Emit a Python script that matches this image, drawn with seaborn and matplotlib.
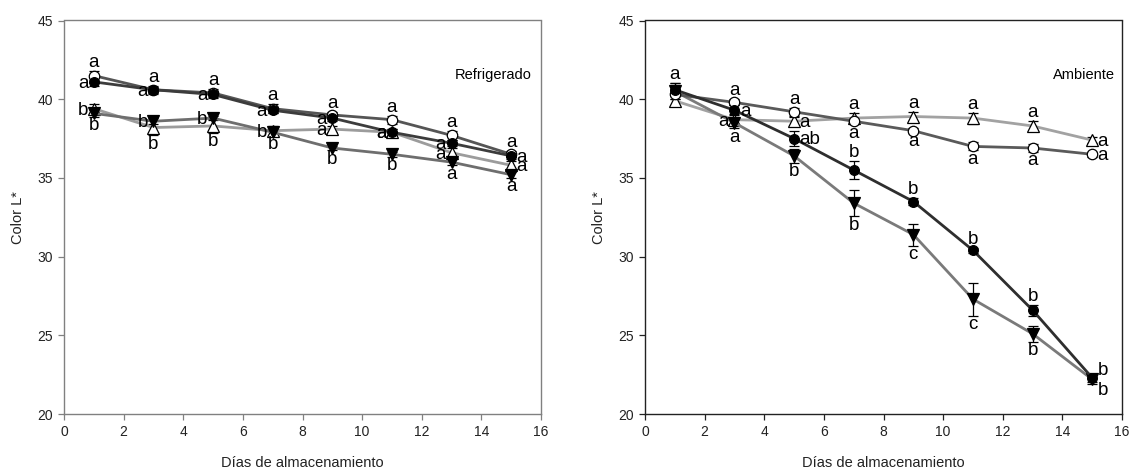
import numpy as np
import pandas as pd
import matplotlib
matplotlib.use("Agg")
import matplotlib.pyplot as plt
import seaborn as sns

# ---------------- data ----------------
days = [1, 3, 5, 7, 9, 11, 13, 15]

# Refrigerado
ref_fc = [41.1, 40.6, 40.3, 39.3, 38.8, 37.9, 37.2, 36.4]
ref_oc = [41.5, 40.6, 40.4, 39.4, 39.0, 38.7, 37.7, 36.5]
ref_ft = [39.1, 38.6, 38.8, 37.9, 36.9, 36.5, 36.0, 35.2]
ref_ot = [39.4, 38.2, 38.3, 38.0, 38.1, 37.9, 36.6, 35.8]
ref_fc_err = [0.25, 0.2, 0.2, 0.2, 0.2, 0.2, 0.2, 0.2]
ref_oc_err = [0.3, 0.25, 0.25, 0.3, 0.2, 0.25, 0.3, 0.2]
ref_ft_err = [0.2, 0.2, 0.15, 0.2, 0.15, 0.15, 0.2, 0.2]
ref_ot_err = [0.3, 0.5, 0.45, 0.3, 0.2, 0.2, 0.3, 0.25]
ref_fc_let = ["a", "a", "a", "a", "a", "a", "a", "a"]
ref_oc_let = ["a", "a", "a", "a", "a", "a", "a", "a"]
ref_ft_let = ["b", "b", "b", "b", "b", "b", "a", "a"]
ref_ot_let = ["b", "b", "b", "b", "a", "a", "a", "a"]

# Ambiente
amb_fc = [40.6, 39.3, 37.5, 35.5, 33.5, 30.4, 26.6, 22.3]
amb_oc = [40.3, 39.8, 39.2, 38.6, 38.0, 37.0, 36.9, 36.5]
amb_ft = [40.5, 38.5, 36.4, 33.4, 31.4, 27.3, 25.1, 22.2]
amb_ot = [39.9, 38.7, 38.6, 38.8, 38.9, 38.8, 38.3, 37.4]
amb_fc_err = [0.4, 0.3, 0.45, 0.55, 0.25, 0.15, 0.35, 0.25]
amb_oc_err = [0.3, 0.2, 0.25, 0.2, 0.15, 0.25, 0.25, 0.15]
amb_ft_err = [0.5, 0.35, 0.45, 0.85, 0.7, 1.05, 0.5, 0.3]
amb_ot_err = [0.3, 0.35, 0.3, 0.3, 0.3, 0.35, 0.3, 0.2]
amb_fc_let = ["a", "a", "ab", "b", "b", "b", "b", "b"]
amb_oc_let = ["", "a", "a", "a", "a", "a", "a", "a"]
amb_ft_let = ["", "a", "b", "b", "c", "c", "b", "b"]
amb_ot_let = ["", "a", "a", "a", "a", "a", "a", "a"]

panel_titles = ["Refrigerado", "Ambiente"]
xlabel = "Días de almacenamiento"
ylabel = "Color L*"

# letter placement (side of the point)
ref_fc_side = ["W", "W", "W", "W", "W", "W", "W", "E"]
ref_oc_side = ["N", "N", "N", "N", "N", "N", "N", "N"]
ref_ft_side = ["S", "W", "W", "S", "S", "S", "S", "S"]
ref_ot_side = ["W", "S", "S", "W", "W", "W", "W", "E"]
amb_fc_side = ["N", "E", "E", "N", "N", "N", "N", "NE"]
amb_oc_side = ["N", "N", "N", "S", "S", "S", "S", "E"]
amb_ft_side = ["S", "S", "S", "S", "S", "S", "S", "SE"]
amb_ot_side = ["W", "W", "E", "N", "N", "N", "N", "E"]

# ---------------- style ----------------
sns.set_theme(style="ticks")
plt.rcParams["font.family"] = ["Liberation Sans", "DejaVu Sans"]

fig = plt.figure(figsize=(11.3, 4.73), dpi=100)
ax1 = fig.add_axes([64 / 1130, 59 / 473, 477 / 1130, 393.5 / 473])
ax2 = fig.add_axes([645 / 1130, 59 / 473, 477 / 1130, 393.5 / 473])

series_style = {
    "fc": dict(marker="o", mfc="black", ms=7),
    "oc": dict(marker="o", mfc="white", ms=7.5),
    "ft": dict(marker="v", mfc="black", ms=8),
    "ot": dict(marker="^", mfc="white", ms=8),
}

panels = [
    (ax1, {"fc": (ref_fc, ref_fc_err, ref_fc_let, ref_fc_side),
           "oc": (ref_oc, ref_oc_err, ref_oc_let, ref_oc_side),
           "ft": (ref_ft, ref_ft_err, ref_ft_let, ref_ft_side),
           "ot": (ref_ot, ref_ot_err, ref_ot_let, ref_ot_side)},
     {"fc": "#3c3c3c", "oc": "#555555", "ft": "#6e6e6e", "ot": "#9c9c9c"},
     "#808080"),
    (ax2, {"fc": (amb_fc, amb_fc_err, amb_fc_let, amb_fc_side),
           "oc": (amb_oc, amb_oc_err, amb_oc_let, amb_oc_side),
           "ft": (amb_ft, amb_ft_err, amb_ft_let, amb_ft_side),
           "ot": (amb_ot, amb_ot_err, amb_ot_let, amb_ot_side)},
     {"fc": "#2e2e2e", "oc": "#5a5a5a", "ft": "#7a7a7a", "ot": "#a2a2a2"},
     "#222222"),
]

offsets = {
    "N": ((0, 0.0), "center", "bottom"),
    "S": ((0, -0.3), "center", "top"),
    "W": ((-4, -1), "right", "center"),
    "E": ((4, -1), "left", "center"),
    "NE": ((4, 5), "left", "center"),
    "SE": ((4, -8), "left", "center"),
}

for ax, data, colors, spine_col in panels:
    order = ["ot", "ft", "oc", "fc"]
    for k in order:
        vals, errs, lets, sides = data[k]
        st = series_style[k]
        ax.errorbar(days, vals, yerr=errs, fmt="none", ecolor="black",
                    elinewidth=0.9, capsize=3.8, capthick=0.9, zorder=2)
        sns.lineplot(x=days, y=vals, ax=ax, color=colors[k], linewidth=2.0,
                     marker=st["marker"], markersize=st["ms"],
                     markerfacecolor=st["mfc"], markeredgecolor="black",
                     markeredgewidth=0.9, zorder=3)
        for x, y, e, t, s in zip(days, vals, errs, lets, sides):
            if not t:
                continue
            (dx, dy), ha, va = offsets[s]
            yy = y + e if s == "N" else (y - e if s == "S" else y)
            ax.annotate(t, xy=(x, yy), xytext=(dx, dy), textcoords="offset points",
                        ha=ha, va=va, fontsize=13.5, color="black", zorder=5)

    ax.set_xlim(0, 16)
    ax.set_ylim(20, 45)
    ax.set_xticks(range(0, 17, 2))
    ax.set_yticks(range(20, 46, 5))
    ax.tick_params(axis="both", labelsize=10, direction="out", length=4,
                   width=0.9, color=spine_col, labelcolor="#222222", pad=4)
    for sp in ax.spines.values():
        sp.set_visible(True)
        sp.set_color(spine_col)
        sp.set_linewidth(1.0)
    ax.set_xlabel(xlabel, fontsize=10.5, labelpad=12, color="#222222")
    ax.set_ylabel(ylabel, fontsize=10.5, labelpad=9, color="#222222")
    ax.grid(False)

ax1.text(0.98, 0.862, panel_titles[0], transform=ax1.transAxes, ha="right",
         va="center", fontsize=10.5, color="black")
ax2.text(0.985, 0.862, panel_titles[1], transform=ax2.transAxes, ha="right",
         va="center", fontsize=10.5, color="black")

fig.savefig("out.png", dpi=100)
